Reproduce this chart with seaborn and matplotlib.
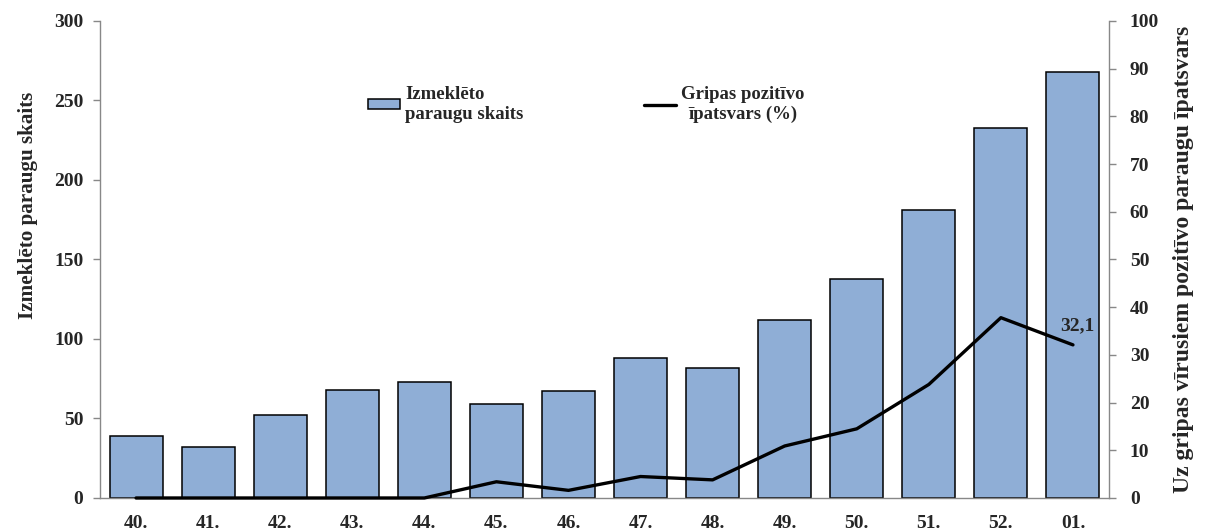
import matplotlib
matplotlib.use("Agg")
import matplotlib.pyplot as plt
import seaborn as sns
import pandas as pd
import numpy as np
from matplotlib.patches import Patch
from matplotlib.lines import Line2D

weeks = ["40.", "41.", "42.", "43.", "44.", "45.", "46.", "47.", "48.", "49.",
         "50.", "51.", "52.", "01."]
samples = [39, 32, 52, 68, 73, 59, 67, 88, 82, 112, 138, 181, 233, 268]
positive_pct = [0, 0, 0, 0, 0, 3.4, 1.6, 4.5, 3.8, 10.9, 14.5, 23.8, 37.8, 32.1]

bar_label = "Izmeklēto\nparaugu skaits"
line_label = "Gripas pozitīvo\nīpatsvars (%)"
left_title = "Izmeklēto paraugu skaits"
right_title = "Uz gripas vīrusiem pozitīvo paraugu īpatsvars"

df = pd.DataFrame({"week": weeks, "samples": samples, "pct": positive_pct})
df["pos"] = np.arange(len(weeks))

sns.set_style("white")
plt.rcParams["font.family"] = ["Liberation Serif", "DejaVu Serif"]
plt.rcParams["font.weight"] = "bold"

fig = plt.figure(figsize=(12.14, 5.30), dpi=100)
ax = fig.add_axes([0.0824, 0.0604, 0.8311, 0.9])

bar_color = "#8FAED6"
sns.barplot(data=df, x="pos", y="samples", color=bar_color, edgecolor="black",
            linewidth=1.1, width=0.735, saturation=1, ax=ax, native_scale=True)

ax2 = ax.twinx()
sns.lineplot(data=df, x="pos", y="pct", color="black", linewidth=2.4,
             ax=ax2, sort=False, clip_on=False)

n = len(weeks)
tick_fs = 14
ax.set_xlim(-0.5, n - 0.5)
ax.set_ylim(0, 300)
ax2.set_ylim(0, 100)
ax.set_yticks(range(0, 301, 50))
ax2.set_yticks(range(0, 101, 10))

ax.set_xticks(range(n))
ax.set_xticklabels(weeks, fontsize=tick_fs, fontweight="bold")
ax.set_xticks(np.arange(-0.5, n, 1.0), minor=True)
ax.tick_params(axis="x", which="major", length=0, pad=12)
ax.tick_params(axis="x", which="minor", length=5, color="#888888", width=1)
ax.tick_params(axis="y", which="major", length=5, color="#888888", width=1,
               labelsize=tick_fs, pad=7)
ax2.tick_params(axis="y", which="major", length=5, color="#888888", width=1,
                labelsize=tick_fs, pad=10)
for lab in ax.get_yticklabels() + ax2.get_yticklabels():
    lab.set_fontweight("bold")

for a in (ax, ax2):
    a.spines["top"].set_visible(False)
    for s in ("left", "right", "bottom"):
        a.spines[s].set_color("#888888")
        a.spines[s].set_linewidth(1)
ax.spines["right"].set_visible(False)
ax2.spines["left"].set_visible(False)
ax2.spines["bottom"].set_visible(False)

ax.set_xlabel("")
ax.set_ylabel(left_title, fontsize=15.2, fontweight="bold")
ax.yaxis.set_label_coords(-0.061, 0.614)
ax2.set_ylabel(right_title, fontsize=17, fontweight="bold", labelpad=10)

# value label at the last week
ax2.annotate(f"{positive_pct[-1]:.1f}".replace(".", ","),
             xy=(n - 1, positive_pct[-1]), xytext=(-9.5, 7.5),
             textcoords="offset points", fontsize=14, fontweight="bold",
             ha="left", va="bottom")

# legend
handles = [Patch(facecolor=bar_color, edgecolor="black", linewidth=1.1),
           Line2D([0], [0], color="black", linewidth=2.4)]
leg = ax2.legend(handles, [bar_label, line_label], loc="upper left",
                 bbox_to_anchor=(0.266, 0.864), ncol=2, frameon=False,
                 borderpad=0, borderaxespad=0,
                 prop={"size": 13.5, "weight": "bold"}, handlelength=1.7,
                 handletextpad=0.27, columnspacing=6.4, handleheight=0.45)
leg.get_texts()[1].set_multialignment("center")

fig.savefig("out.png", dpi=100)
